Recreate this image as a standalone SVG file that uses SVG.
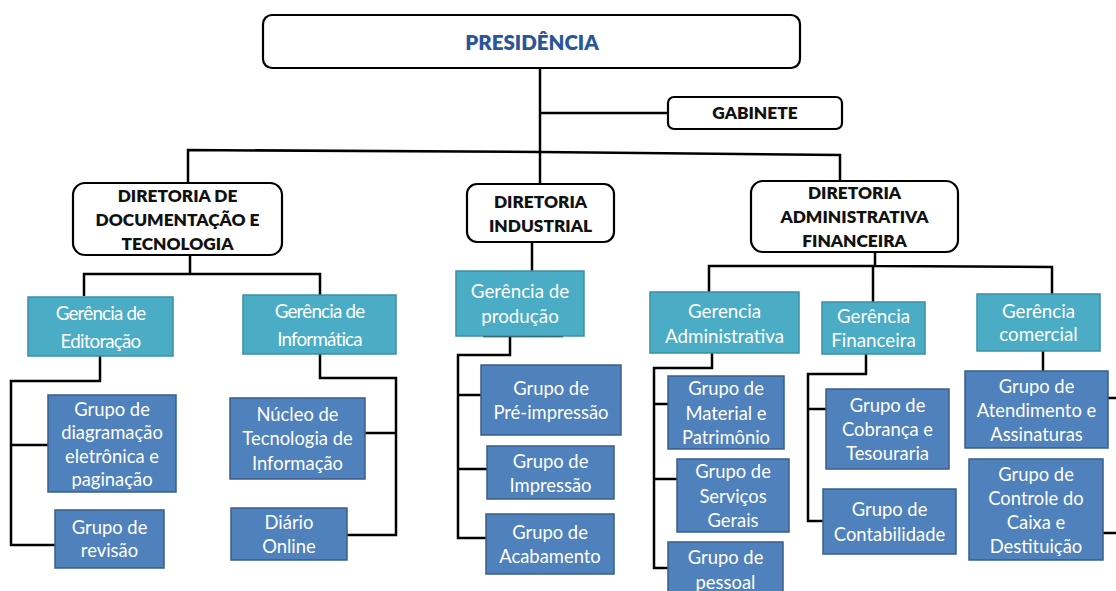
<svg xmlns="http://www.w3.org/2000/svg" width="1116" height="591" viewBox="0 0 1116 591">
<style>
.hdr{fill:#fff;stroke:#000;stroke-width:2.2}
.teal{fill:#4BACC6;stroke:#3A8EA6;stroke-width:1.5}
.blue{fill:#4F81BD;stroke:#385D8A;stroke-width:1.5}
.ht{font-family:Lato,"Liberation Sans",sans-serif;font-weight:800;font-size:17.3px;fill:#111;text-anchor:middle}
.tt{font-family:Lato,"Liberation Sans",sans-serif;font-size:18.8px;fill:#fff;text-anchor:middle}
.bt{font-family:Lato,"Liberation Sans",sans-serif;font-size:18.4px;fill:#fff;text-anchor:middle}
.ln{fill:none;stroke:#000;stroke-width:2.5}
</style>
<rect width="1116" height="591" fill="#fff"/>
<g id="connectors" class="ln">
<path d="M540 68V184"/>
<path d="M540 113H668"/>
<path d="M188 183V150L540 152L840 155V182"/>
<path d="M190 255V274M84 296V274H320V295"/>
<path d="M100 356V381H11V545H55M11 445H48"/>
<path d="M320 354V378H396V535H347M396 433H365"/>
<path d="M532 242V271"/>
<path d="M510 336V355H458V538H486M458 395H481M458 469H487"/>
<path d="M483 336H563"/>
<path d="M875 252V266M709 292V266L875 266L1052 267V294M873 266V302"/>
<path d="M712 353V368H654V568H668M654 404H668M654 479H677"/>
<path d="M866 354V374H808V521H823M808 409H826"/>
<path d="M1043 351V371"/>
<path d="M1108 398H1116M1103 533H1116"/>
</g>
<g id="presidencia"><rect class="hdr" x="263" y="15" width="537" height="53" rx="9"/><text x="532" y="50" font-family="Lato,'Liberation Sans',sans-serif" font-weight="800" font-size="20.5" fill="#2A5699" text-anchor="middle">PRESIDÊNCIA</text></g>
<g id="gabinete"><rect class="hdr" x="668" y="97" width="174" height="32" rx="6"/><text class="ht" x="755" y="119" font-size="18">GABINETE</text></g>
<g id="dir-doc"><rect class="hdr" x="73" y="183" width="209" height="72" rx="12"/><text class="ht" x="177.5" y="202">DIRETORIA DE</text><text class="ht" x="177.5" y="226">DOCUMENTAÇÃO E</text><text class="ht" x="177.5" y="250">TECNOLOGIA</text></g>
<g id="dir-ind"><rect class="hdr" x="467" y="184" width="147" height="58" rx="10"/><text class="ht" x="540.5" y="208">DIRETORIA</text><text class="ht" x="540.5" y="232">INDUSTRIAL</text></g>
<g id="dir-adm"><rect class="hdr" x="751" y="181" width="207" height="71" rx="12"/><text class="ht" x="854.5" y="199">DIRETORIA</text><text class="ht" x="854.5" y="223">ADMINISTRATIVA</text><text class="ht" x="854.5" y="247">FINANCEIRA</text></g>
<g id="ger-edit"><rect class="teal" x="28" y="297" width="145" height="59"/><text class="tt" x="100.5" y="320" letter-spacing="-0.8">Gerência de</text><text class="tt" x="100.5" y="348" letter-spacing="-0.8">Editoração</text></g>
<g id="ger-info"><rect class="teal" x="243" y="295" width="153" height="59"/><text class="tt" x="319.5" y="318" letter-spacing="-0.8">Gerência de</text><text class="tt" x="319.5" y="346" letter-spacing="-0.8">Informática</text></g>
<g id="ger-prod"><rect class="teal" x="456" y="271" width="128" height="65"/><text class="tt" x="520" y="298">Gerência de</text><text class="tt" x="520" y="323">produção</text></g>
<g id="ger-adm"><rect class="teal" x="650" y="292" width="149" height="61"/><text class="tt" x="724.5" y="318">Gerencia</text><text class="tt" x="724.5" y="343">Administrativa</text></g>
<g id="ger-fin"><rect class="teal" x="822" y="302" width="103" height="52"/><text class="tt" x="873.5" y="323">Gerência</text><text class="tt" x="873.5" y="347">Financeira</text></g>
<g id="ger-com"><rect class="teal" x="977" y="294" width="123" height="57"/><text class="tt" x="1038.5" y="318">Gerência</text><text class="tt" x="1038.5" y="341">comercial</text></g>
<g id="g-diag"><rect class="blue" x="48" y="395" width="128" height="97"/><text class="bt" x="112" y="416">Grupo de</text><text class="bt" x="112" y="439">diagramação</text><text class="bt" x="112" y="463">eletrônica e</text><text class="bt" x="112" y="486">paginação</text></g>
<g id="g-rev"><rect class="blue" x="55" y="510" width="109" height="58"/><text class="bt" x="109.5" y="534">Grupo de</text><text class="bt" x="109.5" y="557">revisão</text></g>
<g id="g-nucleo"><rect class="blue" x="230" y="398" width="135" height="81"/><text class="bt" x="297.5" y="421">Núcleo de</text><text class="bt" x="297.5" y="445">Tecnologia de</text><text class="bt" x="297.5" y="470">Informação</text></g>
<g id="g-diario"><rect class="blue" x="231" y="508" width="116" height="52"/><text class="bt" x="289" y="529">Diário</text><text class="bt" x="289" y="553">Online</text></g>
<g id="g-pre"><rect class="blue" x="481" y="365" width="140" height="70"/><text class="bt" x="551" y="395">Grupo de</text><text class="bt" x="551" y="419">Pré-impressão</text></g>
<g id="g-imp"><rect class="blue" x="487" y="446" width="127" height="53"/><text class="bt" x="550.5" y="468">Grupo de</text><text class="bt" x="550.5" y="492">Impressão</text></g>
<g id="g-acab"><rect class="blue" x="486" y="514" width="128" height="60"/><text class="bt" x="550" y="539">Grupo de</text><text class="bt" x="550" y="563">Acabamento</text></g>
<g id="g-mat"><rect class="blue" x="668" y="376" width="116" height="73"/><text class="bt" x="726" y="395">Grupo de</text><text class="bt" x="726" y="420">Material e</text><text class="bt" x="726" y="444">Patrimônio</text></g>
<g id="g-serv"><rect class="blue" x="677" y="459" width="112" height="73"/><text class="bt" x="733" y="478">Grupo de</text><text class="bt" x="733" y="503">Serviços</text><text class="bt" x="733" y="527">Gerais</text></g>
<g id="g-pes"><rect class="blue" x="668" y="542" width="115" height="55"/><text class="bt" x="725.5" y="564">Grupo de</text><text class="bt" x="725.5" y="589">pessoal</text></g>
<g id="g-cob"><rect class="blue" x="826" y="389" width="123" height="80"/><text class="bt" x="887.5" y="412">Grupo de</text><text class="bt" x="887.5" y="436">Cobrança e</text><text class="bt" x="887.5" y="460">Tesouraria</text></g>
<g id="g-cont"><rect class="blue" x="823" y="489" width="133" height="65"/><text class="bt" x="889.5" y="516">Grupo de</text><text class="bt" x="889.5" y="541">Contabilidade</text></g>
<g id="g-atend"><rect class="blue" x="965" y="371" width="143" height="77"/><text class="bt" x="1036.5" y="393">Grupo de</text><text class="bt" x="1036.5" y="417">Atendimento e</text><text class="bt" x="1036.5" y="441">Assinaturas</text></g>
<g id="g-caixa"><rect class="blue" x="969" y="459" width="134" height="101"/><text class="bt" x="1036" y="481">Grupo de</text><text class="bt" x="1036" y="505">Controle do</text><text class="bt" x="1036" y="529">Caixa e</text><text class="bt" x="1036" y="553">Destituição</text></g>
</svg>
